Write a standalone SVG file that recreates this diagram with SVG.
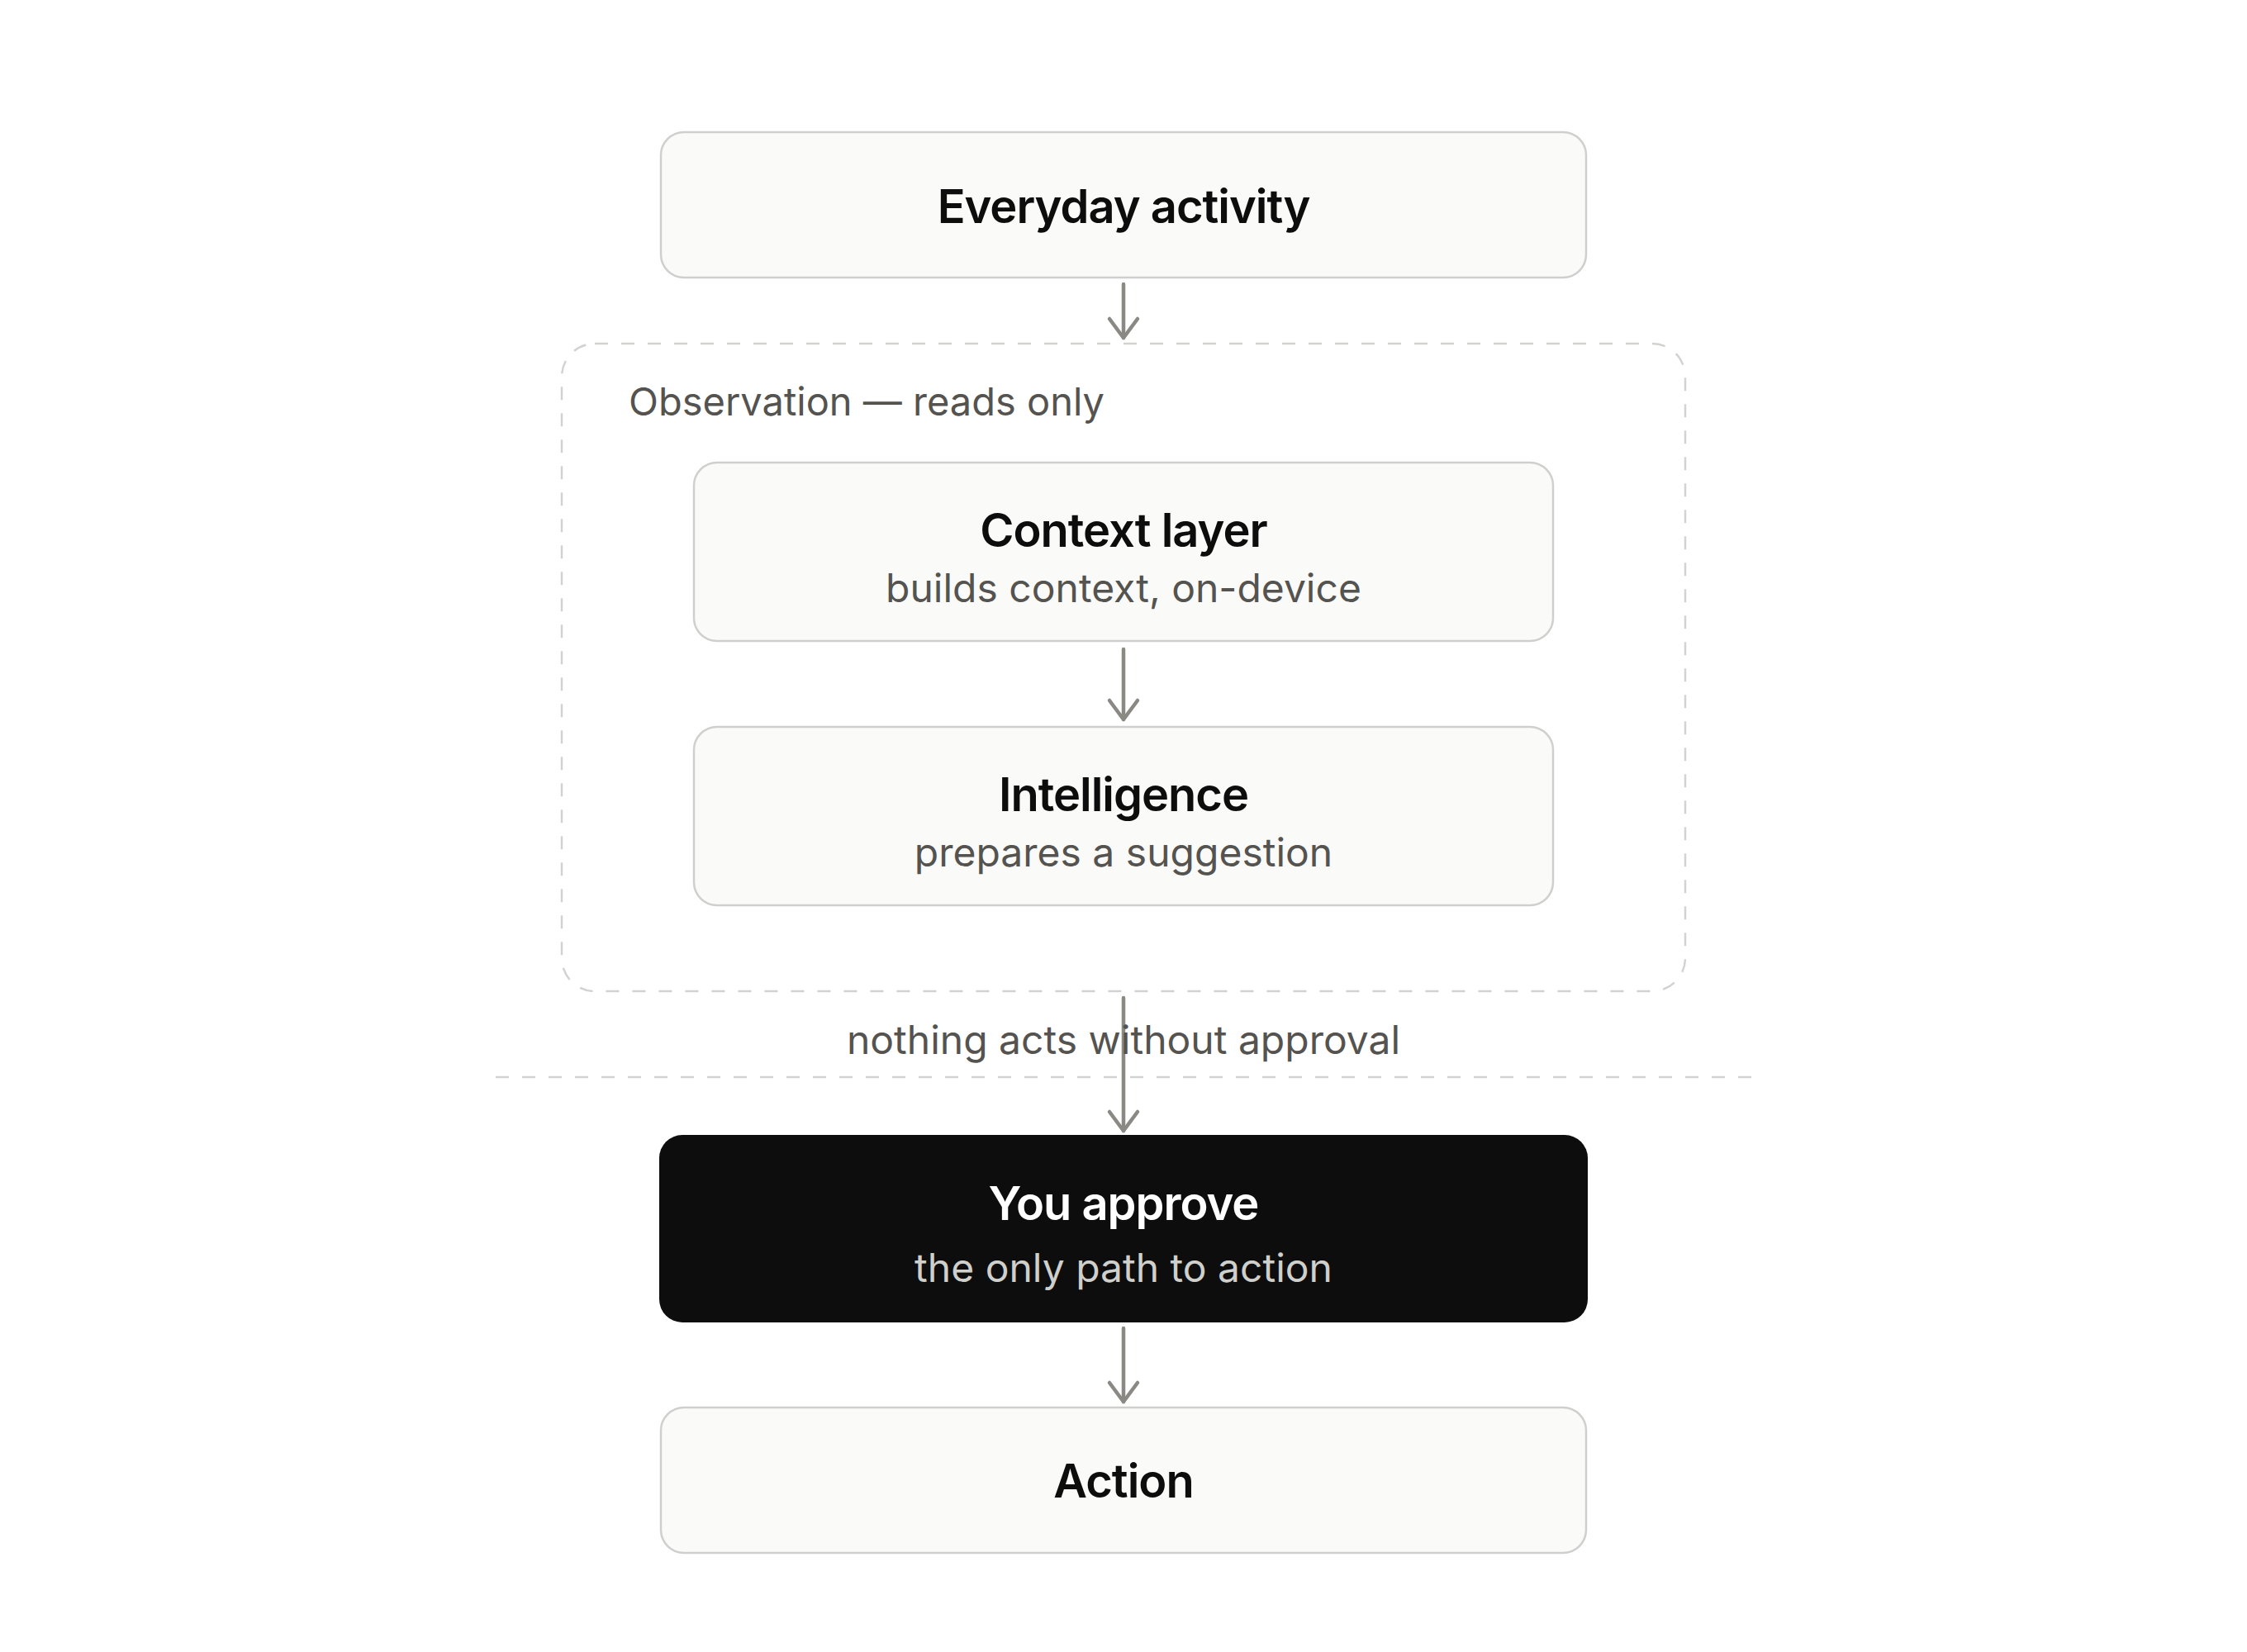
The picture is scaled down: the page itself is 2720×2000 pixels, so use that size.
<svg xmlns="http://www.w3.org/2000/svg" width="2720" height="2000" viewBox="0 0 2720 2000">
<defs>
<style>
.box{fill:#fafaf9;stroke:#cfcfcd;stroke-width:2.5}
.dark{fill:#0d0d0d}
.dash{fill:none;stroke:#d2d2d0;stroke-width:2.5;stroke-dasharray:16 16}
.title{font-family:Inter,"Liberation Sans",sans-serif;font-size:56px;font-weight:600;letter-spacing:-1px;fill:#0d0d0d;text-anchor:middle}
.sub{font-family:Inter,"Liberation Sans",sans-serif;font-size:48px;font-weight:400;fill:#55534f;text-anchor:middle}
.label{font-family:Inter,"Liberation Sans",sans-serif;font-size:47px;font-weight:400;fill:#55534f}
.conn{stroke:#8a8984;stroke-width:4.5;fill:none;stroke-linecap:round;marker-end:url(#arr)}
</style>
<marker id="arr" markerUnits="userSpaceOnUse" viewBox="-30 -25 36 50" markerWidth="36" markerHeight="50" refX="0" refY="0" orient="auto">
<path d="M-23,-17 L0,0 L-23,17" fill="none" stroke="#8a8984" stroke-width="4.5" stroke-linecap="round" stroke-linejoin="round"/>
</marker>
</defs>
<rect width="2720" height="2000" fill="#ffffff"/>

<g id="observation-group">
<rect class="dash" x="680" y="416" width="1360" height="784" rx="40"/>
<text class="label" x="761" y="503">Observation — reads only</text>
</g>

<g id="approval-boundary">
<line class="dash" x1="600" y1="1304" x2="2120" y2="1304"/>
</g>

<g id="everyday-activity">
<rect class="box" x="800" y="160" width="1120" height="176" rx="28"/>
<text class="title" x="1360" y="270">Everyday activity</text>
</g>

<g id="context-layer">
<rect class="box" x="840" y="560" width="1040" height="216" rx="28"/>
<text class="title" x="1360" y="662">Context layer</text>
<text class="sub" x="1360" y="729">builds context, on-device</text>
</g>

<g id="intelligence">
<rect class="box" x="840" y="880" width="1040" height="216" rx="28"/>
<text class="title" x="1360" y="982">Intelligence</text>
<text class="sub" x="1360" y="1049">prepares a suggestion</text>
</g>

<g id="you-approve">
<rect class="dark" x="798" y="1374" width="1124" height="227" rx="28"/>
<text class="title" x="1360" y="1477" style="fill:#ffffff">You approve</text>
<text class="sub" x="1360" y="1552" style="fill:#cfcfcc">the only path to action</text>
</g>

<g id="action">
<rect class="box" x="800" y="1704" width="1120" height="176" rx="28"/>
<text class="title" x="1360" y="1813">Action</text>
</g>

<g id="connectors">
<line class="conn" x1="1360" y1="344" x2="1360" y2="409"/>
<line class="conn" x1="1360" y1="786" x2="1360" y2="871"/>
<line class="conn" x1="1360" y1="1208" x2="1360" y2="1369"/>
<line class="conn" x1="1360" y1="1608" x2="1360" y2="1697"/>
<text class="sub" x="1360" y="1276">nothing acts without approval</text>
</g>
</svg>
